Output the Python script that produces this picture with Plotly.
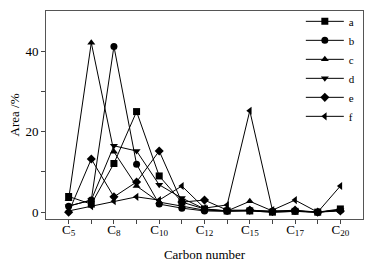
import plotly.graph_objects as go

categories = ["C5", "C6", "C8", "C9", "C10", "C11", "C12", "C13", "C15", "C16", "C17", "C18", "C20"]
tick_labels = ["C<sub>5</sub>", "C<sub>8</sub>", "C<sub>10</sub>", "C<sub>12</sub>",
               "C<sub>15</sub>", "C<sub>17</sub>", "C<sub>20</sub>"]
series_names = ["a", "b", "c", "d", "e", "f"]
a = [3.9, 2.0, 12.1, 25.0, 9.0, 2.5, 0.8, 0.3, 0.3, 0.0, 0.2, 0.0, 0.8]
b = [1.5, 3.0, 41.2, 11.9, 2.0, 1.0, 0.3, 0.2, 0.5, 0.2, 0.3, 0.0, 0.5]
c = [3.2, 42.1, 15.0, 6.5, 2.5, 1.5, 0.5, 0.3, 2.7, 0.3, 0.3, 0.0, 0.5]
d = [1.5, 3.0, 16.5, 15.2, 6.8, 3.5, 0.8, 0.3, 0.3, 0.0, 0.2, 0.0, 0.5]
e = [0.0, 13.2, 3.8, 7.5, 15.2, 2.5, 3.0, 0.5, 0.5, 0.2, 0.5, 0.0, 0.3]
f = [0.3, 1.5, 2.7, 3.8, 3.0, 6.5, 1.0, 1.8, 25.2, 0.5, 3.0, 0.0, 6.5]

series = [a, b, c, d, e, f]
symbols = ["square", "circle", "triangle-up", "triangle-down", "diamond", "triangle-left"]

xs = list(range(len(categories)))
fig = go.Figure()
for name, vals, sym in zip(series_names, series, symbols):
    fig.add_trace(go.Scatter(
        x=xs, y=vals, name=name, mode="lines+markers",
        line=dict(color="black", width=1),
        marker=dict(symbol=sym, size=7, color="black"),
    ))

font = dict(family="Liberation Serif, Times New Roman, serif", color="black")
fig.update_layout(
    width=376, height=265,
    margin=dict(l=46, r=13, t=11, b=46, autoexpand=False),
    paper_bgcolor="white", plot_bgcolor="white",
    font=dict(size=12, **font),
    showlegend=True,
    legend=dict(x=0.99, y=1.02, xanchor="right", yanchor="top",
                bgcolor="rgba(0,0,0,0)", font=dict(size=11, **font),
                tracegroupgap=0, itemwidth=38),
)
fig.update_xaxes(
    range=[-1, 13], tickmode="array",
    tickvals=[0, 2, 4, 6, 8, 10, 12], ticktext=tick_labels,
    ticks="outside", ticklen=4, tickcolor="#444",
    minor=dict(tickvals=[1, 3, 5, 7, 9, 11], ticks="outside", ticklen=4, tickcolor="#444"),
    showgrid=False, zeroline=False,
    showline=True, linecolor="#555", linewidth=1, mirror=True,
    title=dict(text="Carbon number", font=dict(size=13, **font), standoff=12),
    tickfont=dict(size=13, **font),
    ticklabelstandoff=-6,
)
fig.update_yaxes(
    range=[-1.7, 50], tickvals=[0, 20, 40],
    ticks="outside", ticklen=4, tickcolor="#444",
    minor=dict(tickvals=[10, 30], ticks="outside", ticklen=4, tickcolor="#444"),
    showgrid=False, zeroline=False,
    showline=True, linecolor="#555", linewidth=1, mirror=True,
    title=dict(text="Area /%", font=dict(size=13, **font), standoff=2),
    tickfont=dict(size=13, **font),
)
fig.write_html("out.html", config={"displayModeBar": False},
               post_script="document.body.style.margin='0';document.body.style.padding='0';")
